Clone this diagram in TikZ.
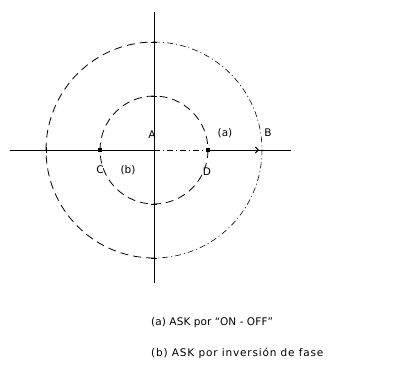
\documentclass[tikz,border=0pt]{standalone}
\usepackage{fontspec}
\setmainfont{DejaVu Sans}
\usetikzlibrary{arrows.meta}
\tikzset{
  axis/.style={black, line width=0.9pt},
  ring/.style={black, line width=0.8pt, dash pattern=on 8pt off 5pt},
  ringdot/.style={black, line width=0.6pt, dash pattern=on 6pt off 3pt on 1pt off 3pt},
  lbl/.style={font=\fontsize{10.5}{13}\selectfont, inner sep=0pt},
  mark dot/.style={fill=black, minimum size=4pt, inner sep=0pt}
}
\begin{document}
\begin{tikzpicture}[x=1pt, y=-1pt]
    \useasboundingbox (0,0) rectangle (413,372);
    % origin and points
    \coordinate (A) at (154,150);
    \node[mark dot] (C) at (100,150) {};
    \node[mark dot] (D) at (208,150) {};
    \coordinate (B) at (259,150);
    \coordinate (left) at (10,150);
    \coordinate (right) at (291,150);
    \coordinate (top) at (154,12);
    \coordinate (bottom) at (154,283);
    
    % circles (y axis points down)
    \draw[ring] (A) ++(0,108) arc[start angle=90, end angle=270, radius=108];
    \draw[ringdot] (A) ++(0,-108) arc[start angle=-90, end angle=90, radius=108];
    \draw[ring] (A) circle[radius=54];
    
    % axes
    \draw[axis] (top) -- (bottom);
    \draw[axis] (left) -- (A);
    \draw[ringdot] (A) -- (D);
    \draw[axis] (D) -- (right);
    \draw[axis, -{Straight Barb[length=3pt]}] (B) ++(-6,0) -- (B);
    
    % ticks
    \foreach \y in {42,96,204,258}
        \draw[axis] (151,\y) -- (157,\y);
    \draw[axis] (151,150) -- (157,150);
    \draw[axis] (46,147) -- (46,153);
    
    % labels
    \node[lbl] (labA) at (152,135) {A};
    \node[lbl] (laba) at (225,133) {(a)};
    \node[lbl] (labB) at (268,133) {B};
    \node[lbl] (labC) at (100,170) {C};
    \node[lbl] (labb) at (128,170) {(b)};
    \node[lbl] (labD) at (207,172) {D};
    
    % captions
    \node[lbl, anchor=west] (capa) at (151,323) {\addfontfeatures{LetterSpace=1}(a) ASK por ``ON - OFF''};
    \node[lbl, anchor=west] (capb) at (151,353) {\addfontfeatures{LetterSpace=8}(b) ASK por inversión de fase};
\end{tikzpicture}
\end{document}
